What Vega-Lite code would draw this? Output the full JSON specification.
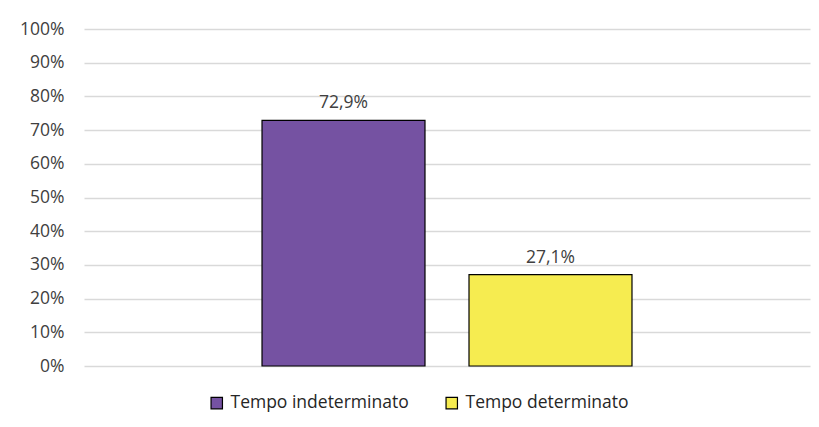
{
  "$schema": "https://vega.github.io/schema/vega-lite/v6.json",
  "width": 726,
  "height": 337,
  "padding": {"left": 84, "top": 29, "right": 9, "bottom": 61},
  "autosize": {"type": "none"},
  "background": "white",
  "config": {
    "locale": {"number": {"decimal": ",", "thousands": ".", "grouping": [3], "currency": ["€", ""]}},
    "view": {"stroke": null},
    "font": "Open Sans",
    "axis": {"labelFont": "Open Sans", "labelFontSize": 17.5, "labelColor": "#404040"},
    "legend": {"labelFont": "Open Sans", "labelFontSize": 17.5, "labelColor": "#262626", "labelLimit": 400}
  },
  "data": {
    "values": [
      {"serie": "Tempo indeterminato", "valore": 0.729},
      {"serie": "Tempo determinato", "valore": 0.271}
    ]
  },
  "encoding": {
    "x": {
      "field": "serie", "type": "nominal",
      "sort": ["Tempo indeterminato", "Tempo determinato"],
      "scale": {"paddingInner": 0.2126, "paddingOuter": 0.86},
      "axis": null
    },
    "y": {
      "field": "valore", "type": "quantitative",
      "scale": {"domain": [0, 1], "nice": false},
      "axis": {
        "format": ".0%", "values": [0,0.1,0.2,0.3,0.4,0.5,0.6,0.7,0.8,0.9,1],
        "labelOverlap": false, "labelFlush": false,
        "domain": false, "ticks": false, "title": null,
        "gridColor": "#D9D9D9", "gridWidth": 1.3, "labelPadding": 20
      }
    }
  },
  "layer": [
    {
      "mark": {"type": "bar", "stroke": "#000000", "strokeWidth": 1.2},
      "encoding": {
        "color": {
          "field": "serie", "type": "nominal",
          "sort": ["Tempo indeterminato", "Tempo determinato"],
          "scale": {"domain": ["Tempo indeterminato", "Tempo determinato"], "range": ["#7552A2", "#F6EC50"]},
          "legend": {
            "title": null, "orient": "none", "direction": "horizontal",
            "legendX": 124, "legendY": 365,
            "symbolType": "square", "symbolSize": 130, "symbolStrokeColor": "#000000", "symbolStrokeWidth": 1.2,
            "symbolOpacity": 1, "columnPadding": 34, "labelOffset": 5, "labelLimit": 400
          }
        }
      }
    },
    {
      "mark": {"type": "text", "baseline": "bottom", "dy": -8, "fontSize": 17.5, "color": "#404040", "font": "Open Sans"},
      "encoding": {
        "text": {"field": "valore", "type": "quantitative", "format": ".1%"}
      }
    }
  ]
}
